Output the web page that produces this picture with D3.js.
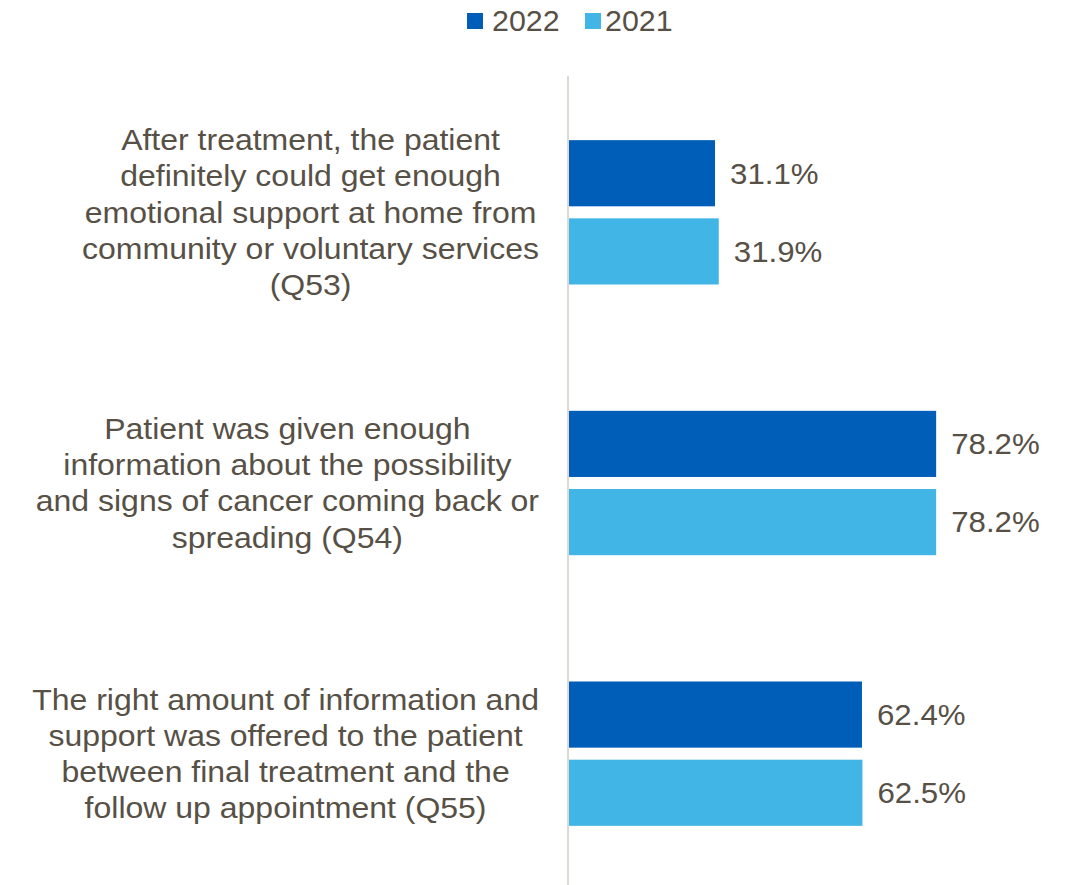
<!DOCTYPE html>
<html>
<head>
<meta charset="utf-8">
<script src="https://cdn.jsdelivr.net/npm/d3@7"></script>
<style>
  html, body { margin: 0; padding: 0; background: #ffffff; }
  svg { display: block; font-family: "Liberation Sans", Arial, sans-serif; }
</style>
</head>
<body>
<svg id="chart" width="1069" height="885"></svg>
<script>
// Question labels, already split into display lines
const categories = ["Q53", "Q54", "Q55"];
const categoryLines = [
  ["After treatment, the patient", "definitely could get enough", "emotional support at home from", "community or voluntary services", "(Q53)"],
  ["Patient was given enough", "information about the possibility", "and signs of cancer coming back or", "spreading (Q54)"],
  ["The right amount of information and", "support was offered to the patient", "between final treatment and the", "follow up appointment (Q55)"]
];
const seriesNames = ["2022", "2021"];
const values2022 = [31.1, 78.2, 62.4];
const values2021 = [31.9, 78.2, 62.5];

const colors = { "2022": "#005EB8", "2021": "#41B6E6" };
const textColor = "#575046";
const fontSize = 29.5;

const svg = d3.select("#chart");
const rows = categories.map((c, i) => ({
  cat: c,
  lines: categoryLines[i],
  vals: [
    { key: "2022", v: values2022[i] },
    { key: "2021", v: values2021[i] }
  ]
}));

// Text drawn slightly widened horizontally around its anchor point
function wideText(parent, str, px, py, sx, anchor) {
  return parent.append("text")
    .attr("transform", `translate(${px},${py}) scale(${sx},1)`)
    .attr("dy", "0.35em")
    .attr("text-anchor", anchor || "start")
    .attr("font-size", fontSize)
    .attr("fill", textColor)
    .text(str);
}

const axisX = 569;
const x = d3.scaleLinear().domain([0, 100]).range([axisX, axisX + 469.5]);
const y0 = d3.scaleBand().domain(categories).range([77, 889])
  .paddingInner(0.4667).paddingOuter(0.2333);
const y1 = d3.scaleBand().domain(seriesNames).range([0, y0.bandwidth()])
  .paddingInner(12 / 78).paddingOuter(0);

// Category axis line
svg.append("line")
  .attr("x1", axisX - 1).attr("x2", axisX - 1)
  .attr("y1", 76).attr("y2", 885)
  .attr("stroke", "#dcd8d3").attr("stroke-width", 2);

// Bars
const groups = svg.selectAll("g.group").data(rows).join("g")
  .attr("class", "group")
  .attr("transform", d => `translate(0,${y0(d.cat)})`);

groups.selectAll("rect").data(d => d.vals).join("rect")
  .attr("x", x(0))
  .attr("y", d => y1(d.key))
  .attr("width", d => x(d.v) - x(0))
  .attr("height", y1.bandwidth())
  .attr("fill", d => colors[d.key]);

// Value labels
groups.each(function (r) {
  const g = d3.select(this);
  r.vals.forEach(d => {
    wideText(g, d.v.toFixed(1) + "%", x(d.v) + 15, y1(d.key) + y1.bandwidth() / 2, 1.06, "start");
  });
});

// Category labels: each block centred on its widest line, right edge near the axis
const labelRight = 539;
const lineH = 36.3;
const catStretch = 1.085;
rows.forEach(r => {
  const cy = y0(r.cat) + y0.bandwidth() / 2;
  const n = r.lines.length;
  const texts = r.lines.map((ln, i) =>
    wideText(svg, ln, 0, cy + (i - (n - 1) / 2) * lineH, catStretch, "middle"));
  let maxW = 0;
  texts.forEach(t => { maxW = Math.max(maxW, t.node().getComputedTextLength() * catStretch); });
  const cx = labelRight - maxW / 2;
  texts.forEach((t, i) => {
    t.attr("transform", `translate(${cx},${cy + (i - (n - 1) / 2) * lineH}) scale(${catStretch},1)`);
  });
});

// Legend
const legend = svg.append("g");
const legendItems = [
  { key: "2022", sx: 467, tx: 492 },
  { key: "2021", sx: 585, tx: 605 }
];
legendItems.forEach(it => {
  legend.append("rect")
    .attr("x", it.sx).attr("y", 13)
    .attr("width", 16).attr("height", 16)
    .attr("fill", colors[it.key]);
  wideText(legend, it.key, it.tx, 21, 1.03, "start");
});
</script>
</body>
</html>
